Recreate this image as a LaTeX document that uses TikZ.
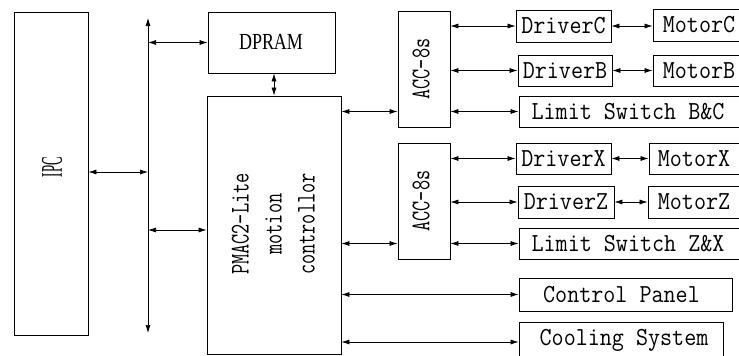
\documentclass[tikz,border=0pt]{standalone}
\usepackage{fontspec}
\usetikzlibrary{arrows.meta}
\newfontfamily\lmm{Latin Modern Mono}
\newfontfamily\libser{Liberation Serif}
\newcommand{\hsq}[2]{\scalebox{#1}[1]{#2}}
\begin{document}
\begin{tikzpicture}[x=1pt,y=-1pt,
  box/.style={draw=black,line width=0.8pt,inner sep=0pt,fill=white},
  htext/.style={font=\lmm\fontsize{26}{30}\selectfont},
  vtext/.style={font=\lmm\fontsize{27}{33}\selectfont},
  link/.style={line width=0.7pt,{Latex[length=8pt,width=5pt]}-{Latex[length=8pt,width=5pt]}}]
\useasboundingbox (0,0) rectangle (739,356);
\clip (0,0) rectangle (739,356);
% left column
\node[box,minimum width=74,minimum height=323] (ipc) at (51,173.5) {};
\node[font=\libser\fontsize{30}{32}\selectfont,rotate=90] (ipct) at (52,167) {\hsq{0.43}{IPC}};
\node[box,minimum width=127,minimum height=61] (dpram) at (271.5,42.5) {};
\node[font=\libser\fontsize{23}{26}\selectfont] (dpramt) at (271,42) {\hsq{0.78}{DPRAM}};
\node[box,minimum width=134,minimum height=258] (pmac) at (274,225) {};
\node[vtext,rotate=90] (pmact) at (275,224) {\hsq{0.73}{\begin{tabular}{@{}c@{}}PMAC2-Lite\\motion\\controllor\end{tabular}}};
% ACC boards
\node[box,minimum width=52,minimum height=116] (acc1) at (424,69) {};
\node[vtext,rotate=90] (acc1t) at (421,69) {\hsq{0.73}{ACC-8s}};
\node[box,minimum width=52,minimum height=116] (acc2) at (424,201) {};
\node[vtext,rotate=90] (acc2t) at (421,201) {\hsq{0.73}{ACC-8s}};
% drivers and motors
\node[box,minimum width=95,minimum height=32] (drvC) at (563.5,26) {};
\node[box,minimum width=93,minimum height=32] (motC) at (699.5,25) {};
\node[box,minimum width=94,minimum height=31] (drvB) at (565,70.5) {};
\node[box,minimum width=93,minimum height=31] (motB) at (699.5,70.5) {};
\node[box,minimum width=221,minimum height=31] (lbc) at (629.5,111.5) {};
\node[box,minimum width=95,minimum height=31] (drvX) at (563.5,158.5) {};
\node[box,minimum width=97,minimum height=31] (motX) at (697.5,158.5) {};
\node[box,minimum width=96,minimum height=32] (drvZ) at (566,202) {};
\node[box,minimum width=98,minimum height=32] (motZ) at (697,202) {};
\node[box,minimum width=221,minimum height=31] (lzx) at (629.5,243.5) {};
\node[box,minimum width=213,minimum height=33] (cp) at (625.5,294.5) {};
\node[box,minimum width=204,minimum height=40] (cool) at (621,342) {};
\node[htext] (drvCt) at (drvC) {\hsq{0.9}{DriverC}};
\node[htext] (motCt) at (699,25) {\hsq{0.9}{MotorC}};
\node[htext] (drvBt) at (drvB) {\hsq{0.9}{DriverB}};
\node[htext] (motBt) at (699,70.5) {\hsq{0.9}{MotorB}};
\node[htext] (lbct) at (628,111.5) {\hsq{0.9}{Limit Switch B\&C}};
\node[htext] (drvXt) at (drvX) {\hsq{0.9}{DriverX}};
\node[htext] (motXt) at (694,158.5) {\hsq{0.9}{MotorX}};
\node[htext] (drvZt) at (drvZ) {\hsq{0.9}{DriverZ}};
\node[htext] (motZt) at (694,202) {\hsq{0.9}{MotorZ}};
\node[htext] (lzxt) at (628,243.5) {\hsq{0.9}{Limit Switch Z\&X}};
\node[htext] (cpt) at (621.5,294.5) {\hsq{0.9}{Control Panel}};
\node[htext] (coolt) at (624,340) {\hsq{0.9}{Cooling System}};
% bus
\coordinate (busT) at (148,18);
\coordinate (busB) at (148,333);
\coordinate (b1) at (148,172);
\coordinate (b2) at (148,42.5);
\coordinate (b3) at (148,230);
\draw[link] (busT) -- (busB);
\draw[link] (ipc.east |- b1) -- (b1);
\draw[link] (b2) -- (b2 -| dpram.west);
\draw[link] (b3) -- (b3 -| pmac.west);
\draw[link] (pmac.north |- dpram.south) -- (pmac.north);
% PMAC to right side
\draw[link] (pmac.east |- lbc.west) -- (acc1.west |- lbc.west);
\draw[link] (pmac.east |- lzx.west) -- (acc2.west |- lzx.west);
\draw[link] (pmac.east |- cp.west) -- (cp.west);
\draw[link] (pmac.east |- cool.west) -- (cool.west);
% ACC to drivers
\draw[link] (acc1.east |- drvC.west) -- (drvC.west);
\draw[link] (acc1.east |- drvB.west) -- (drvB.west);
\draw[link] (acc1.east |- lbc.west) -- (lbc.west);
\draw[link] (acc2.east |- drvX.west) -- (drvX.west);
\draw[link] (acc2.east |- drvZ.west) -- (drvZ.west);
\draw[link] (acc2.east |- lzx.west) -- (lzx.west);
% drivers to motors
\draw[link] (drvC.east) -- (drvC.east -| motC.west);
\draw[link] (drvB.east) -- (drvB.east -| motB.west);
\draw[link] (drvX.east) -- (drvX.east -| motX.west);
\draw[link] (drvZ.east) -- (drvZ.east -| motZ.west);
\end{tikzpicture}
\end{document}
